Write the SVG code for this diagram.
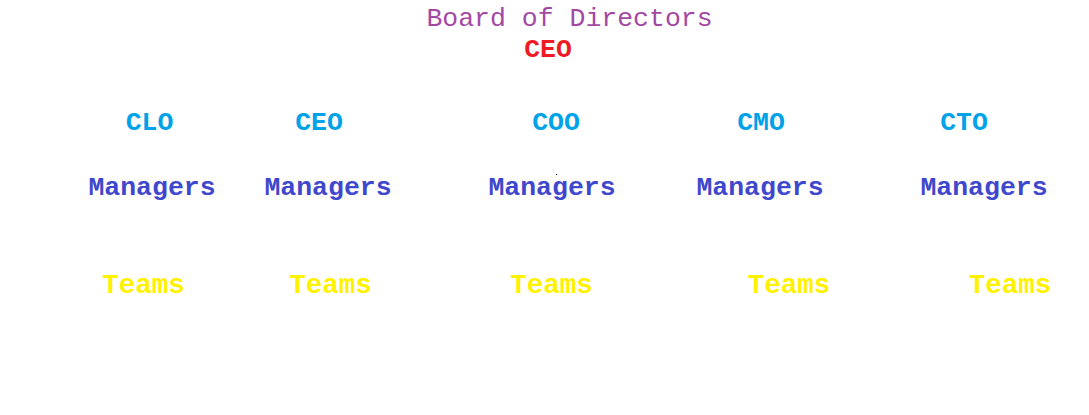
<svg xmlns="http://www.w3.org/2000/svg" width="1089" height="415" viewBox="0 0 1089 415">
<style>
text{font-family:"Liberation Mono","Courier New",monospace;text-anchor:middle;font-size:26.5px}
.b{font-weight:bold}
.board{fill:#a349a4}
.ceo{fill:#ed1c24}
.exec{fill:#00a2e8}
.mgr{fill:#3f48cc}
.team{fill:#fff200;font-size:27.5px}
</style>
<rect width="1089" height="415" fill="#ffffff"/>
<g id="connectors"></g>
<g id="board"><text class="board" x="569.5" y="26">Board of Directors</text></g>
<g id="ceo-top"><text class="ceo b" x="548" y="57">CEO</text></g>
<g id="clo"><text class="exec b" x="149.5" y="130">CLO</text></g>
<g id="ceo"><text class="exec b" x="319" y="130">CEO</text></g>
<g id="coo"><text class="exec b" x="556" y="130">COO</text></g>
<g id="cmo"><text class="exec b" x="761" y="130">CMO</text></g>
<g id="cto"><text class="exec b" x="964" y="130">CTO</text></g>
<g id="mgr1"><text class="mgr b" x="152" y="195">Managers</text></g>
<g id="mgr2"><text class="mgr b" x="328" y="195">Managers</text></g>
<g id="mgr3"><text class="mgr b" x="552" y="195">Managers</text></g>
<g id="mgr4"><text class="mgr b" x="760" y="195">Managers</text></g>
<g id="mgr5"><text class="mgr b" x="984" y="195">Managers</text></g>
<g id="team1"><text class="team b" x="143.5" y="293">Teams</text></g>
<g id="team2"><text class="team b" x="330.5" y="293">Teams</text></g>
<g id="team3"><text class="team b" x="551.5" y="293">Teams</text></g>
<g id="team4"><text class="team b" x="789" y="293">Teams</text></g>
<g id="team5"><text class="team b" x="1010" y="293">Teams</text></g>
<rect x="556" y="174" width="1" height="1" fill="#000000"/>
</svg>
